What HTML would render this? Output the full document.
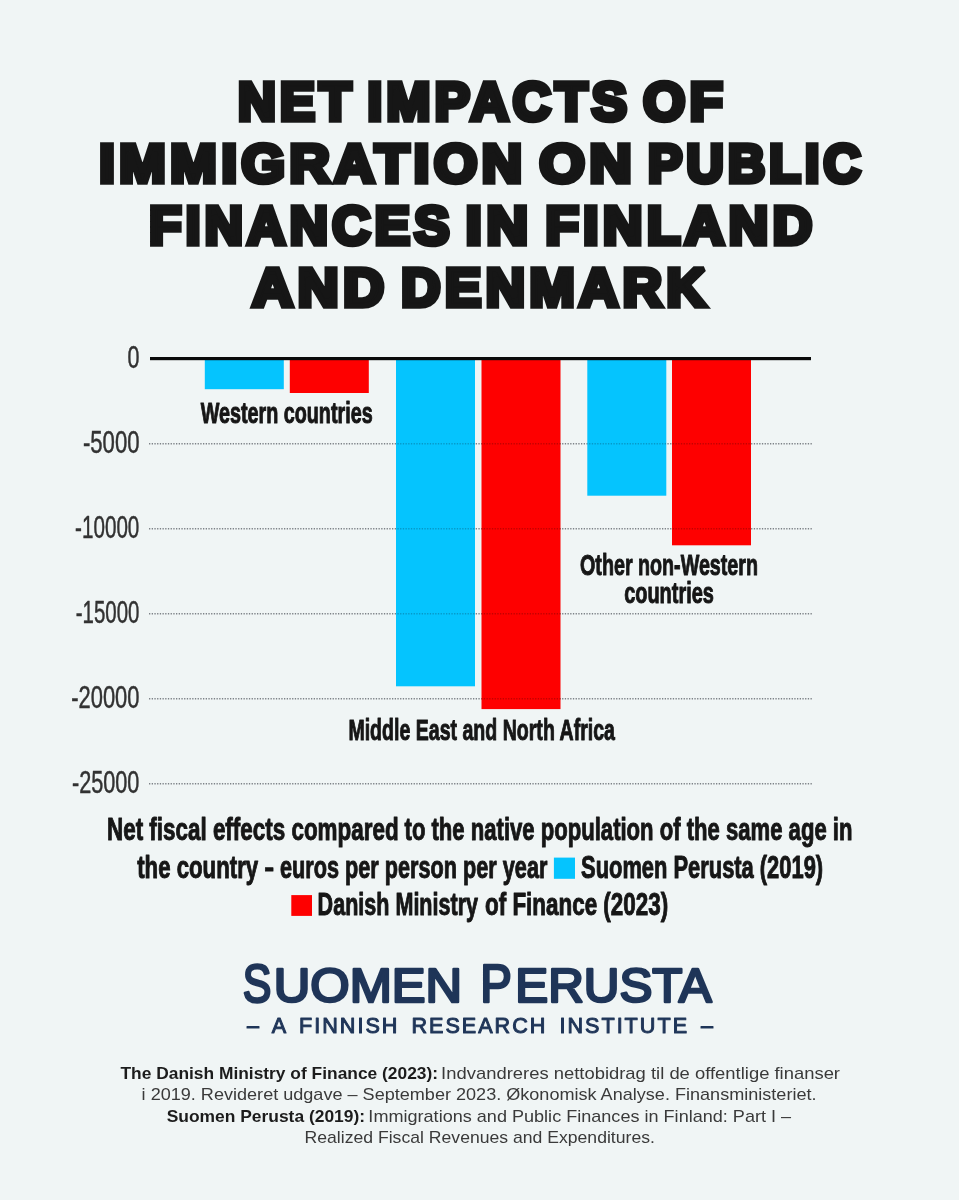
<!DOCTYPE html>
<html lang="en">
<head>
<meta charset="utf-8">
<title>Net impacts of immigration on public finances in Finland and Denmark</title>
<style>
html,body{margin:0;padding:0;background:#f0f5f5;}
body{width:959px;height:1200px;overflow:hidden;}
svg{display:block;font-family:"Liberation Sans",Arial,sans-serif;}
text{white-space:pre;}
</style>
</head>
<body>
<svg width="959" height="1200" viewBox="0 0 959 1200" role="img" aria-label="Net impacts of immigration on public finances in Finland and Denmark">
<rect x="0" y="0" width="959" height="1200" fill="#f0f5f5"/>
<g id="title">
<text y="119.6" font-size="53.7" font-weight="bold" fill="#161616" stroke="#161616" stroke-width="5.6" stroke-linejoin="miter" stroke-miterlimit="2.5" letter-spacing="4.5"><tspan id="t1" x="237.93" textLength="117.68" lengthAdjust="spacingAndGlyphs">NET</tspan> <tspan id="t2" x="367.6" textLength="263.69" lengthAdjust="spacingAndGlyphs">IMPACTS</tspan> <tspan id="t3" x="643.2" textLength="84.0" lengthAdjust="spacingAndGlyphs">OF</tspan></text>
<text y="181.6" font-size="53.7" font-weight="bold" fill="#161616" stroke="#161616" stroke-width="5.6" stroke-linejoin="miter" stroke-miterlimit="2.5" letter-spacing="4.5"><tspan id="t4" x="99.18" textLength="427.56" lengthAdjust="spacingAndGlyphs">IMMIGRATION</tspan> <tspan id="t5" x="539.45" textLength="97.1" lengthAdjust="spacingAndGlyphs">ON</tspan> <tspan id="t6" x="647.97" textLength="216.99" lengthAdjust="spacingAndGlyphs">PUBLIC</tspan></text>
<text y="243.85" font-size="53.7" font-weight="bold" fill="#161616" stroke="#161616" stroke-width="5.6" stroke-linejoin="miter" stroke-miterlimit="2.5" letter-spacing="4.5"><tspan id="t7" x="149.21" textLength="304.59" lengthAdjust="spacingAndGlyphs">FINANCES</tspan> <tspan id="t8" x="465.85" textLength="67.0" lengthAdjust="spacingAndGlyphs">IN</tspan> <tspan id="t9" x="545.47" textLength="271.1" lengthAdjust="spacingAndGlyphs">FINLAND</tspan></text>
<text y="305.85" font-size="53.7" font-weight="bold" fill="#161616" stroke="#161616" stroke-width="5.6" stroke-linejoin="miter" stroke-miterlimit="2.5" letter-spacing="4.5"><tspan id="t10" x="252.35" textLength="136.29" lengthAdjust="spacingAndGlyphs">AND</tspan> <tspan id="t11" x="401.27" textLength="308.95" lengthAdjust="spacingAndGlyphs">DENMARK</tspan></text>
</g>
<g id="chart">
<line x1="149" y1="443.75" x2="813" y2="443.75" stroke="#7d8287" stroke-width="1.4" stroke-dasharray="1.3 1.4"/>
<line x1="149" y1="528.75" x2="813" y2="528.75" stroke="#7d8287" stroke-width="1.4" stroke-dasharray="1.3 1.4"/>
<line x1="149" y1="613.75" x2="813" y2="613.75" stroke="#7d8287" stroke-width="1.4" stroke-dasharray="1.3 1.4"/>
<line x1="149" y1="698.75" x2="813" y2="698.75" stroke="#7d8287" stroke-width="1.4" stroke-dasharray="1.3 1.4"/>
<line x1="149" y1="783.75" x2="813" y2="783.75" stroke="#7d8287" stroke-width="1.4" stroke-dasharray="1.3 1.4"/>
<rect x="204.8" y="358.75" width="79" height="30.45" fill="#05c4fe"/>
<rect x="289.8" y="358.75" width="79" height="34.25" fill="#fe0000"/>
<rect x="396" y="358.75" width="79" height="327.55" fill="#05c4fe"/>
<rect x="481.5" y="358.75" width="79" height="350.35" fill="#fe0000"/>
<rect x="587.3" y="358.75" width="79" height="136.95" fill="#05c4fe"/>
<rect x="672" y="358.75" width="79" height="186.55" fill="#fe0000"/>
<line x1="396" y1="443.75" x2="475" y2="443.75" stroke="#7d8287" stroke-width="1.4" stroke-dasharray="1.3 1.4" stroke-dashoffset="1.3" stroke-opacity="0.45" style="mix-blend-mode:multiply"/>
<line x1="396" y1="528.75" x2="475" y2="528.75" stroke="#7d8287" stroke-width="1.4" stroke-dasharray="1.3 1.4" stroke-dashoffset="1.3" stroke-opacity="0.45" style="mix-blend-mode:multiply"/>
<line x1="396" y1="613.75" x2="475" y2="613.75" stroke="#7d8287" stroke-width="1.4" stroke-dasharray="1.3 1.4" stroke-dashoffset="1.3" stroke-opacity="0.45" style="mix-blend-mode:multiply"/>
<line x1="481.5" y1="443.75" x2="560.5" y2="443.75" stroke="#7d8287" stroke-width="1.4" stroke-dasharray="1.3 1.4" stroke-dashoffset="0.4" stroke-opacity="0.45" style="mix-blend-mode:multiply"/>
<line x1="481.5" y1="528.75" x2="560.5" y2="528.75" stroke="#7d8287" stroke-width="1.4" stroke-dasharray="1.3 1.4" stroke-dashoffset="0.4" stroke-opacity="0.45" style="mix-blend-mode:multiply"/>
<line x1="481.5" y1="613.75" x2="560.5" y2="613.75" stroke="#7d8287" stroke-width="1.4" stroke-dasharray="1.3 1.4" stroke-dashoffset="0.4" stroke-opacity="0.45" style="mix-blend-mode:multiply"/>
<line x1="481.5" y1="698.75" x2="560.5" y2="698.75" stroke="#7d8287" stroke-width="1.4" stroke-dasharray="1.3 1.4" stroke-dashoffset="0.4" stroke-opacity="0.45" style="mix-blend-mode:multiply"/>
<line x1="587.3" y1="443.75" x2="666.3" y2="443.75" stroke="#7d8287" stroke-width="1.4" stroke-dasharray="1.3 1.4" stroke-dashoffset="0.9" stroke-opacity="0.45" style="mix-blend-mode:multiply"/>
<line x1="672" y1="443.75" x2="751" y2="443.75" stroke="#7d8287" stroke-width="1.4" stroke-dasharray="1.3 1.4" stroke-dashoffset="1.9" stroke-opacity="0.45" style="mix-blend-mode:multiply"/>
<line x1="672" y1="528.75" x2="751" y2="528.75" stroke="#7d8287" stroke-width="1.4" stroke-dasharray="1.3 1.4" stroke-dashoffset="1.9" stroke-opacity="0.45" style="mix-blend-mode:multiply"/>
<rect x="150" y="357" width="661" height="3.2" fill="#0a0a0a"/>
<text y="368.25" font-size="30.5" font-weight="normal" fill="#323232" stroke="#323232" stroke-width="0.5" stroke-linejoin="round"><tspan id="t12" x="127.49" textLength="11.95" lengthAdjust="spacingAndGlyphs">0</tspan></text>
<text y="453.25" font-size="30.5" font-weight="normal" fill="#323232" stroke="#323232" stroke-width="0.5" stroke-linejoin="round"><tspan id="t13" x="82.91" textLength="56.59" lengthAdjust="spacingAndGlyphs">-5000</tspan></text>
<text y="538.25" font-size="30.5" font-weight="normal" fill="#323232" stroke="#323232" stroke-width="0.5" stroke-linejoin="round"><tspan id="t14" x="75.08" textLength="64.27" lengthAdjust="spacingAndGlyphs">-10000</tspan></text>
<text y="623.25" font-size="30.5" font-weight="normal" fill="#323232" stroke="#323232" stroke-width="0.5" stroke-linejoin="round"><tspan id="t15" x="75.8" textLength="63.61" lengthAdjust="spacingAndGlyphs">-15000</tspan></text>
<text y="708.25" font-size="30.5" font-weight="normal" fill="#323232" stroke="#323232" stroke-width="0.5" stroke-linejoin="round"><tspan id="t16" x="71.24" textLength="68.24" lengthAdjust="spacingAndGlyphs">-20000</tspan></text>
<text y="793.25" font-size="30.5" font-weight="normal" fill="#323232" stroke="#323232" stroke-width="0.5" stroke-linejoin="round"><tspan id="t17" x="71.92" textLength="67.5" lengthAdjust="spacingAndGlyphs">-25000</tspan></text>
<text y="423.4" font-size="29.8" font-weight="bold" fill="#161616" stroke="#161616" stroke-width="1.0" stroke-linejoin="round"><tspan id="t18" x="200.71" textLength="171.95" lengthAdjust="spacingAndGlyphs">Western countries</tspan></text>
<text y="575.2" font-size="29.8" font-weight="bold" fill="#161616" stroke="#161616" stroke-width="1.0" stroke-linejoin="round"><tspan id="t19" x="580.04" textLength="177.97" lengthAdjust="spacingAndGlyphs">Other non-Western</tspan></text>
<text y="602.9" font-size="29.8" font-weight="bold" fill="#161616" stroke="#161616" stroke-width="1.0" stroke-linejoin="round"><tspan id="t20" x="624.14" textLength="89.79" lengthAdjust="spacingAndGlyphs">countries</tspan></text>
<text y="740.1" font-size="29.8" font-weight="bold" fill="#161616" stroke="#161616" stroke-width="1.0" stroke-linejoin="round"><tspan id="t21" x="348.4" textLength="266.57" lengthAdjust="spacingAndGlyphs">Middle East and North Africa</tspan></text>
</g>
<g id="caption">
<text y="840.1" font-size="31.2" font-weight="bold" fill="#161616" stroke="#161616" stroke-width="1.0" stroke-linejoin="round"><tspan id="t22" x="106.97" textLength="291.61" lengthAdjust="spacingAndGlyphs">Net fiscal effects compared</tspan> <tspan id="t23" x="404.54" textLength="447.9" lengthAdjust="spacingAndGlyphs">to the native population of the same age in</tspan></text>
<rect x="553.9" y="857.6" width="21.1" height="21.2" fill="#05c4fe"/>
<text y="877.6" font-size="31.2" font-weight="bold" fill="#161616" stroke="#161616" stroke-width="1.0" stroke-linejoin="round"><tspan id="t24" x="137.15" textLength="121.06" lengthAdjust="spacingAndGlyphs">the country</tspan> <tspan id="t25" x="264.79" textLength="8.86" lengthAdjust="spacingAndGlyphs">–</tspan> <tspan id="t26" x="280.04" textLength="267.35" lengthAdjust="spacingAndGlyphs">euros per person per year</tspan> <tspan id="t27" x="581.07" textLength="242.03" lengthAdjust="spacingAndGlyphs">Suomen Perusta (2019)</tspan></text>
<rect x="291.3" y="895.1" width="20.7" height="20.8" fill="#fe0000"/>
<text y="915.1" font-size="31.2" font-weight="bold" fill="#161616" stroke="#161616" stroke-width="1.0" stroke-linejoin="round"><tspan id="t28" x="317.61" textLength="160.43" lengthAdjust="spacingAndGlyphs">Danish Ministry</tspan> <tspan id="t29" x="485.06" textLength="183.06" lengthAdjust="spacingAndGlyphs">of Finance (2023)</tspan></text>
</g>
<g id="logo">
<text y="1002.4" font-size="47.8" font-weight="normal" fill="#1f3558" stroke="#1f3558" stroke-width="2.6" stroke-linejoin="round"><tspan id="t30" x="242.81" textLength="28.63" lengthAdjust="spacingAndGlyphs" font-size="53.3">S</tspan><tspan id="t31" x="273.84" textLength="188.31" lengthAdjust="spacingAndGlyphs">UOMEN</tspan> <tspan id="t32" x="480.27" textLength="31.56" lengthAdjust="spacingAndGlyphs" font-size="53.3">P</tspan><tspan id="t33" x="515.28" textLength="196.37" lengthAdjust="spacingAndGlyphs">ERUSTA</tspan></text>
<text y="1032.6" font-size="21.6" font-weight="normal" fill="#1f3558" stroke="#1f3558" stroke-width="1.0" stroke-linejoin="round" word-spacing="4"><tspan id="t34" x="246.96" textLength="466.08" lengthAdjust="spacing">– A FINNISH RESEARCH INSTITUTE –</tspan></text>
</g>
<g id="refs">
<text y="1079.0" font-size="17" font-weight="normal" fill="#3a3a3a"><tspan id="t35" x="120.48" textLength="317.59" lengthAdjust="spacingAndGlyphs" font-weight="bold" fill="#1c1c1c">The Danish Ministry of Finance (2023):</tspan> <tspan id="t36" x="441.13" textLength="398.88" lengthAdjust="spacingAndGlyphs">Indvandreres nettobidrag til de offentlige finanser</tspan></text>
<text y="1100.3" font-size="17" font-weight="normal" fill="#3a3a3a"><tspan id="t37" x="141.6" textLength="674.94" lengthAdjust="spacingAndGlyphs">i 2019. Revideret udgave – September 2023. Økonomisk Analyse. Finansministeriet.</tspan></text>
<text y="1121.6" font-size="17" font-weight="normal" fill="#3a3a3a"><tspan id="t38" x="166.72" textLength="198.35" lengthAdjust="spacingAndGlyphs" font-weight="bold" fill="#1c1c1c">Suomen Perusta (2019):</tspan> <tspan id="t39" x="368.38" textLength="422.75" lengthAdjust="spacingAndGlyphs">Immigrations and Public Finances in Finland: Part I –</tspan></text>
<text y="1143.0" font-size="17" font-weight="normal" fill="#3a3a3a"><tspan id="t40" x="304.57" textLength="350.35" lengthAdjust="spacingAndGlyphs">Realized Fiscal Revenues and Expenditures.</tspan></text>
</g>
</svg>
</body>
</html>
